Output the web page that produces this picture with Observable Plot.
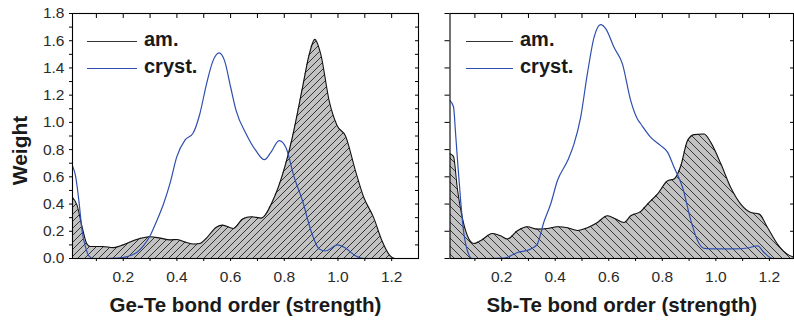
<!DOCTYPE html>
<html><head><meta charset="utf-8">
<script src="https://cdn.jsdelivr.net/npm/d3@7"></script>
<script src="https://cdn.jsdelivr.net/npm/@observablehq/plot@0.6"></script>
<style>
html,body{margin:0;padding:0;background:#fff;}
#wrap{position:relative;width:794px;height:322px;display:flex;font-family:"Liberation Sans",Arial,sans-serif;overflow:hidden;}
#wrap svg{display:block;overflow:visible;}
.leg{position:absolute;font-weight:bold;font-size:20px;color:#1a1a1a;line-height:1;white-space:nowrap;}
.legline{position:absolute;height:0;}
</style></head><body><div id="wrap"></div>
<script>
// ---------- data ----------
const seriesNames = ["am.", "cryst."];
const panelTitles = ["Ge-Te bond order (strength)", "Sb-Te bond order (strength)"];
const yTitle = "Weight";

const geAmX = [0.011,0.028,0.047,0.065,0.078,0.12,0.164,0.2,0.25,0.3,0.337,0.374,0.4,0.436,0.46,0.485,0.51,0.547,0.57,0.61,0.645,0.677,0.714,0.757,0.794,0.83,0.868,0.893,0.914,0.936,0.967,0.997,1.028,1.065,1.096,1.133,1.164,1.19,1.213,1.25,1.3];
const geAmY = [0.45,0.39,0.23,0.106,0.088,0.088,0.08,0.1,0.14,0.16,0.15,0.137,0.14,0.117,0.106,0.11,0.15,0.23,0.245,0.22,0.29,0.307,0.297,0.424,0.62,0.89,1.257,1.5,1.61,1.5,1.16,0.976,0.9,0.645,0.45,0.3,0.13,0.03,0.0,0,0];

const geCrX = [0.011,0.022,0.035,0.047,0.06,0.072,0.09,0.13,0.177,0.214,0.25,0.275,0.3,0.325,0.35,0.374,0.4,0.43,0.46,0.485,0.51,0.534,0.557,0.578,0.6,0.62,0.658,0.695,0.726,0.75,0.781,0.806,0.837,0.868,0.9,0.93,0.954,0.975,0.997,1.028,1.065,1.096,1.15,1.3];
const geCrY = [0.68,0.61,0.42,0.2,0.08,0.02,0,0,0.003,0.014,0.044,0.093,0.167,0.277,0.4,0.55,0.75,0.87,0.92,1.06,1.28,1.45,1.51,1.45,1.26,1.09,0.915,0.79,0.726,0.78,0.866,0.816,0.596,0.424,0.2,0.07,0.055,0.075,0.1,0.077,0.02,0,0,0];

const sbAmX = [0.007,0.02,0.034,0.053,0.072,0.096,0.121,0.165,0.196,0.221,0.259,0.296,0.333,0.371,0.408,0.446,0.483,0.52,0.558,0.595,0.626,0.657,0.682,0.72,0.745,0.782,0.82,0.844,0.869,0.894,0.919,0.956,0.981,1.019,1.056,1.093,1.131,1.162,1.193,1.23,1.268,1.29];
const sbAmY = [0.77,0.75,0.52,0.3,0.167,0.11,0.13,0.184,0.167,0.143,0.204,0.233,0.216,0.22,0.233,0.226,0.206,0.226,0.265,0.314,0.29,0.265,0.314,0.346,0.4,0.473,0.571,0.584,0.68,0.865,0.91,0.915,0.853,0.694,0.52,0.4,0.338,0.326,0.228,0.106,0.03,0.01];

const sbCrX = [0.007,0.02,0.028,0.037,0.047,0.059,0.072,0.09,0.15,0.209,0.259,0.308,0.333,0.358,0.383,0.408,0.446,0.47,0.495,0.52,0.545,0.57,0.589,0.62,0.651,0.682,0.707,0.72,0.757,0.794,0.82,0.844,0.876,0.907,0.932,0.956,1.006,1.068,1.118,1.156,1.18,1.212,1.29];
const sbCrY = [1.16,1.115,0.915,0.67,0.42,0.18,0.057,0,0,0.003,0.044,0.069,0.106,0.27,0.4,0.571,0.718,0.84,1.037,1.356,1.625,1.718,1.687,1.55,1.43,1.16,1.025,0.988,0.89,0.829,0.78,0.67,0.52,0.277,0.13,0.074,0.07,0.07,0.077,0.093,0.044,0,0];

const yMajor = [0,0.2,0.4,0.6,0.8,1.0,1.2,1.4,1.6,1.8];
const yLabels = ["0.0","0.2","0.4","0.6","0.8","1.0","1.2","1.4","1.6","1.8"];
const yMinor = [0.1,0.3,0.5,0.7,0.9,1.1,1.3,1.5,1.7];
const xMajor = [0.2,0.4,0.6,0.8,1.0,1.2];
const xLabels = ["0.2","0.4","0.6","0.8","1.0","1.2"];
const xAll = [0.1,0.2,0.3,0.4,0.5,0.6,0.7,0.8,0.9,1.0,1.1,1.2];

// ---------- drawing ----------
const BLUE = "#2f4fae";
const zip = (X, Y) => X.map((x, i) => ({x, y: Y[i]}));
const font = '"Liberation Sans", Arial, sans-serif';

function panel(o) {
  const am = zip(o.amX, o.amY), cr = zip(o.crX, o.crY);
  const marks = [
    Plot.areaY(am, {x: "x", y: "y", fill: `url(#${o.pid})`, curve: "monotone-x", clip: true}),
    Plot.line(am, {x: "x", y: "y", stroke: "#111", strokeWidth: 1.1, curve: "monotone-x", clip: true}),
    Plot.line(cr, {x: "x", y: "y", stroke: BLUE, strokeWidth: 1.2, curve: "monotone-x", clip: true}),
    Plot.frame({stroke: "#000", strokeWidth: 1.1}),
    // bottom axis
    Plot.axisX({anchor: "bottom", ticks: xAll, tickSize: 3, tickFormat: () => "", label: null}),
    Plot.axisX({anchor: "bottom", ticks: xMajor, tickSize: 0, tickPadding: 12, fontSize: 15.5, fill: "#2a2a2a",
      tickFormat: d => xLabels[xMajor.indexOf(d)], label: null}),
    // top axis (inward)
    Plot.axisX({anchor: "top", ticks: xAll, tickSize: -4, tickFormat: () => "", label: null}),
    Plot.text([o.title], {text: d => d, frameAnchor: "bottom", lineAnchor: "middle", textAnchor: "middle", dy: 47,
      fontSize: 20.5, fontWeight: "bold", fill: "#1a1a1a"})
  ];
  if (o.leftLabels) {
    marks.push(
      Plot.axisY({anchor: "left", ticks: yMajor, tickSize: 3, tickPadding: 5, fontSize: 15.5, fill: "#2a2a2a",
        tickFormat: d => yLabels[yMajor.indexOf(d)], label: null}),
      Plot.axisY({anchor: "left", ticks: yMinor, tickSize: 3, tickFormat: () => "", label: null}),
      Plot.axisY({anchor: "right", ticks: yMajor.concat(yMinor), tickSize: -4, tickFormat: () => "", label: null}),
      Plot.text([yTitle], {text: d => d, frameAnchor: "left", textAnchor: "middle", lineAnchor: "middle",
        dx: -52.7, dy: 14.5, rotate: -90, fontSize: 21, fontWeight: "bold", fill: "#1a1a1a"})
    );
  } else {
    marks.push(
      Plot.axisY({anchor: "left", ticks: yMajor, tickSize: 5, tickFormat: () => "", label: null}),
      Plot.axisY({anchor: "right", ticks: yMajor, tickSize: -4, tickFormat: () => "", label: null})
    );
  }
  const svg = Plot.plot({
    width: o.width, height: 322,
    marginLeft: o.ml, marginRight: o.mr, marginTop: 13, marginBottom: 64,
    style: {fontFamily: font, color: "#000", background: "#fff"},
    x: {domain: o.xDomain},
    y: {domain: [0, 1.8]},
    marks
  });
  const ns = "http://www.w3.org/2000/svg";
  const defs = document.createElementNS(ns, "defs");
  const s = o.hatch;
  const d = o.dir > 0
    ? `M${-1},1 l2,-2 M0,${s} l${s},${-s} M${s-1},${s+1} l2,-2`
    : `M${-1},${s-1} l2,2 M0,0 l${s},${s} M${s-1},-1 l2,2`;
  defs.innerHTML = `<pattern id="${o.pid}" patternUnits="userSpaceOnUse" width="${s}" height="${s}">` +
    `<rect width="${s}" height="${s}" fill="#c2c2c2"/>` +
    `<path d="${d}" stroke="#1c1c1c" stroke-width="0.85" fill="none"/></pattern>`;
  svg.insertBefore(defs, svg.firstChild);
  return svg;
}

const wrap = document.getElementById("wrap");
wrap.appendChild(panel({width: 420, ml: 72, mr: 2, xDomain: [0.011, 1.3], amX: geAmX, amY: geAmY, crX: geCrX, crY: geCrY,
  pid: "hatchL", hatch: 7, dir: 1, title: panelTitles[0], leftLabels: true}));
wrap.appendChild(panel({width: 374, ml: 29.5, mr: 1, xDomain: [0.007, 1.29], amX: sbAmX, amY: sbAmY, crX: sbCrX, crY: sbCrY,
  pid: "hatchR", hatch: 8, dir: -1, title: panelTitles[1], leftLabels: false}));

// legends
function legend(x0, x1) {
  const cols = ["#333", BLUE];
  const ys = [42, 69];
  seriesNames.forEach((name, i) => {
    const l = document.createElement("div");
    l.className = "legline";
    l.style.cssText = `left:${x0}px;top:${ys[i]-0.75}px;width:${x1-x0}px;border-top:1.5px solid ${cols[i]};`;
    wrap.appendChild(l);
    const t = document.createElement("div");
    t.className = "leg";
    t.textContent = name;
    t.style.left = (x1 + 7) + "px";
    t.style.top = (ys[i] - 13) + "px";
    wrap.appendChild(t);
  });
}
legend(87, 137);
legend(466, 513);
</script></body></html>
